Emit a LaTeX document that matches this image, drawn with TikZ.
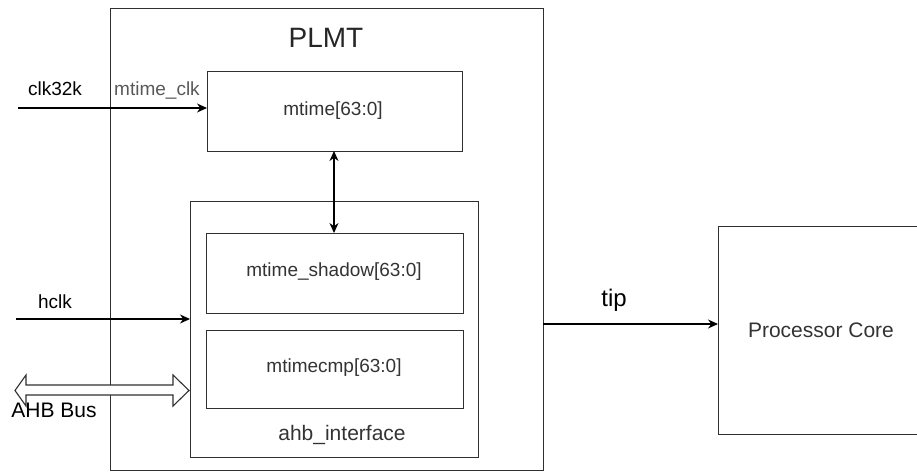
\documentclass[tikz,border=0pt]{standalone}
\usepackage{fontspec}
\setmainfont{Liberation Sans}
\usetikzlibrary{arrows.meta}
\definecolor{edge}{HTML}{303030}
\definecolor{txt}{HTML}{333333}
\begin{document}
\begin{tikzpicture}[x=1pt,y=-1pt,
  box/.style={draw=edge,line width=1.2pt,fill=none,inner sep=0pt,anchor=north west},
  lbl/.style={font=\fontsize{19}{22}\selectfont,text=txt,inner sep=0pt},
  wire/.style={draw=black,line width=1.2pt,-{Stealth[length=10pt,width=9pt]}},
  biwire/.style={draw=black,line width=1.2pt,{Stealth[length=10pt,width=9pt]}-{Stealth[length=10pt,width=9pt]}}]
\useasboundingbox (0,0) rectangle (917,472);
\clip (0,0) rectangle (917,472);
% boxes
\node[box,minimum width=433pt,minimum height=462pt] (plmt) at (110,8) {};
\node[box,minimum width=255pt,minimum height=80pt] (mtime) at (207,71) {};
\node[box,minimum width=288pt,minimum height=256pt] (ahb) at (190,201) {};
\node[box,minimum width=257pt,minimum height=80pt] (shadow) at (206,233) {};
\node[box,minimum width=257pt,minimum height=78pt] (cmp) at (206,330) {};
\node[box,minimum width=207pt,minimum height=208pt] (core) at (718,226) {};
% texts
\node[lbl,font=\fontsize{28}{32}\selectfont,text=black!85] (plmtt) at (326,38) {PLMT};
\node[lbl] (mtimet) at (333,111) {mtime[63:0]};
\node[lbl] (shadowt) at (334,272) {mtime\_shadow[63:0]};
\node[lbl] (cmpt) at (334,368) {mtimecmp[63:0]};
\node[lbl,font=\fontsize{21}{24}\selectfont] (ahbt) at (342,435) {ahb\_interface};
\node[lbl,font=\fontsize{21}{24}\selectfont] (coret) at (821,330) {Processor Core};
\node[lbl,text=black] (clkt) at (55,89) {clk32k};
\node[lbl,text=black!65] (mclkt) at (157,90) {mtime\_clk};
\node[lbl,text=black] (hclkt) at (55,302) {hclk};
\node[lbl,text=black,font=\fontsize{21}{24}\selectfont] (ahbbust) at (54,410) {AHB Bus};
\node[lbl,text=black,font=\fontsize{24}{28}\selectfont] (tipt) at (614,300) {tip};
% connectors
\coordinate (clkin) at (18,108);
\coordinate (hclkin) at (16,319);
\coordinate (tipout) at (543,324);
\draw[wire] (clkin) -- (clkin -| mtime.west);
\draw[wire] (hclkin) -- (hclkin -| ahb.west);
\draw[wire] (tipout) -- (tipout -| core.west);
\draw[biwire] (334,151) -- (334,233);
% AHB bus hollow double arrow
\draw[draw=edge,line width=1.1pt,fill=white,line join=miter]
  (15,390.5) -- (26,375) -- (26,385) -- (173,385) -- (173,375) -- (189,390.5)
  -- (173,406) -- (173,395) -- (26,395) -- (26,406) -- cycle;
\end{tikzpicture}
\end{document}
